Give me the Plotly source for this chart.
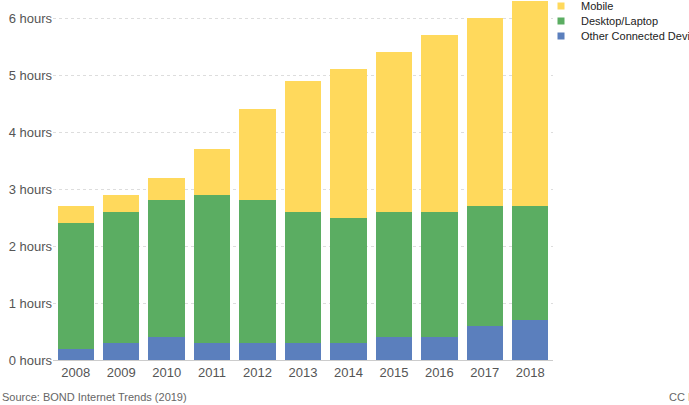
import plotly.graph_objects as go

years = ["2008", "2009", "2010", "2011", "2012", "2013", "2014", "2015", "2016", "2017", "2018"]
other = [0.2, 0.3, 0.4, 0.3, 0.3, 0.3, 0.3, 0.4, 0.4, 0.6, 0.7]
desktop = [2.2, 2.3, 2.4, 2.6, 2.5, 2.3, 2.2, 2.2, 2.2, 2.1, 2.0]
mobile = [0.3, 0.3, 0.4, 0.8, 1.6, 2.3, 2.6, 2.8, 3.1, 3.3, 3.6]
ytick_vals = [0, 1, 2, 3, 4, 5, 6]
ytick_text = ["0 hours", "1 hours", "2 hours", "3 hours", "4 hours", "5 hours", "6 hours"]

series = [
    ("Other Connected Devices", other, "#5B7FBD", "legend3", 36),
    ("Desktop/Laptop", desktop, "#5BAD62", "legend2", 21),
    ("Mobile", mobile, "#FFD95C", "legend", 6),
]

W, H = 689, 405
FONT = "Liberation Sans, Arial, sans-serif"
fig = go.Figure()
legends = {}
for name, vals, color, lg, ypx in series:
    fig.add_bar(x=years, y=vals, name=name, marker_color=color, marker_line_width=0,
                showlegend=False)
    fig.add_scatter(x=[None], y=[None], mode="markers", name=name, legend=lg,
                    marker=dict(symbol="square", size=7, color=color))
    legends[lg] = dict(xref="container", yref="container", x=541 / W, y=1 - ypx / H,
                       xanchor="left", yanchor="middle", font=dict(size=11, color="#222222"),
                       bgcolor="rgba(0,0,0,0)", borderwidth=0, itemwidth=30)

fig.update_layout(
    width=W, height=H,
    barmode="stack", bargap=0.2,
    plot_bgcolor="white", paper_bgcolor="white",
    margin=dict(l=53, r=136, t=1, b=45, autoexpand=False),
    font=dict(family=FONT, color="#555555", size=13),
    xaxis=dict(showgrid=False, showline=True, linecolor="#cccccc", linewidth=1,
               ticks="", tickfont=dict(size=13, color="#555555")),
    yaxis=dict(range=[0, 6.3], tickvals=ytick_vals, ticktext=ytick_text,
               showgrid=True, gridcolor="#dddddd", griddash="dot", gridwidth=1,
               zeroline=False, ticks="", tickfont=dict(size=13, color="#555555")),
    **legends,
)
fig.add_annotation(text="Source: BOND Internet Trends (2019)", xref="paper", yref="paper",
                   x=-53 / 500, y=-37 / 359, xanchor="left", yanchor="middle", showarrow=False,
                   font=dict(size=11, color="#666666"))
fig.add_annotation(text="CC BY", xref="paper", yref="paper",
                   x=(667 - 53) / 500, y=-37 / 359, xanchor="left", yanchor="middle", showarrow=False,
                   font=dict(size=11, color="#666666"))
fig.write_html("out.html", config={"displayModeBar": False},
               post_script="document.body.style.margin='0';document.body.style.overflow='hidden';")
